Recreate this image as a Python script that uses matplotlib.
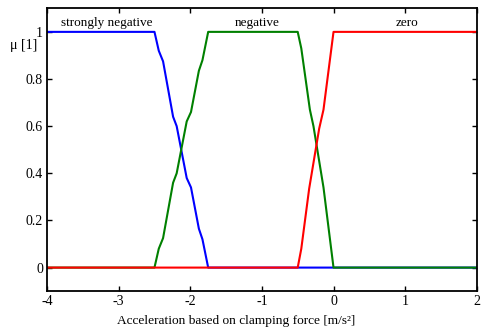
import matplotlib
matplotlib.use("Agg")
import matplotlib.pyplot as plt

plt.rcParams['font.family'] = ['Liberation Serif', 'DejaVu Serif']
plt.rcParams['axes.unicode_minus'] = False

# membership functions
x_sneg = [-4.0, -2.5, -2.44, -2.38, -2.24, -2.19, -2.05, -1.99, -1.88, -1.83, -1.75, 2.0]
mu_sneg = [1.0, 1.0, 0.92, 0.875, 0.64, 0.60, 0.38, 0.34, 0.165, 0.12, 0.0, 0.0]

x_neg = [-4.0, -2.5, -2.44, -2.38, -2.24, -2.19, -2.05, -1.99, -1.88, -1.83, -1.75,
         -0.5, -0.45, -0.33, -0.28, -0.14, 0.0, 2.0]
mu_neg = [0.0, 0.0, 0.08, 0.125, 0.36, 0.40, 0.62, 0.66, 0.835, 0.88, 1.0,
          1.0, 0.93, 0.67, 0.60, 0.34, 0.0, 0.0]

x_zero = [-4.0, -0.5, -0.45, -0.34, -0.2, -0.14, 0.0, 2.0]
mu_zero = [0.0, 0.0, 0.08, 0.335, 0.59, 0.67, 1.0, 1.0]

set_names = ["strongly negative", "negative", "zero"]
name_x = [-3.16, -1.07, 1.02]

xticks = [-4, -3, -2, -1, 0, 1, 2]
yticks = [0, 0.2, 0.4, 0.6, 0.8, 1]

fig = plt.figure(figsize=(4.85, 3.32), dpi=100)
ax = fig.add_axes([0.097, 0.123, 0.886, 0.852])

ax.plot(x_sneg, mu_sneg, color=(0, 0, 1), lw=1.5)
ax.plot(x_neg, mu_neg, color=(0, 0.5, 0), lw=1.5)
ax.plot(x_zero, mu_zero, color=(1, 0, 0), lw=1.5)

for name, xc in zip(set_names, name_x):
    ax.text(xc, 1.038, name, ha='center', va='center', fontsize=9.5)

ax.set_xlim(-4, 2)
ax.set_ylim(-0.1, 1.1)
ax.set_xticks(xticks)
ax.set_yticks(yticks)
ax.set_xticklabels([str(t) for t in xticks])
ax.set_yticklabels(["0", "0.2", "0.4", "0.6", "0.8", "1"])
ax.tick_params(direction='in', length=3.5, width=1, labelsize=10,
               top=True, right=True, pad=3)
for s in ax.spines.values():
    s.set_linewidth(1.3)

ax.set_xlabel("Acceleration based on clamping force [m/s²]", fontsize=9.6)
ax.xaxis.set_label_coords(0.44, -0.083)
fig.text(0.049, 0.862, "μ [1]", ha='center', va='center', fontsize=10)

fig.savefig("out.png", dpi=100)
